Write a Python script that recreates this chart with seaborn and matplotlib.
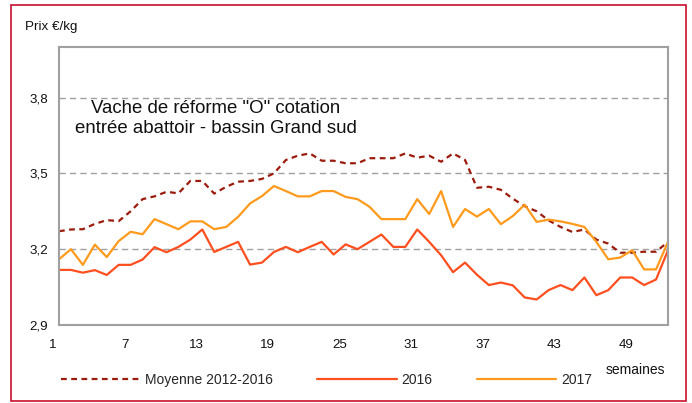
import numpy as np
import pandas as pd
import matplotlib
matplotlib.use("Agg")
import matplotlib.pyplot as plt
import matplotlib.transforms as mtransforms
from matplotlib.patches import Rectangle
import seaborn as sns

# ---- données ----
semaines = list(range(1, 53))

moyenne_2012_2016 = [3.271, 3.278, 3.279, 3.300, 3.315, 3.311, 3.350, 3.398, 3.409, 3.427,
                     3.421, 3.470, 3.470, 3.420, 3.447, 3.467, 3.470, 3.478, 3.500, 3.553,
                     3.570, 3.579, 3.550, 3.550, 3.540, 3.540, 3.560, 3.560, 3.560, 3.579,
                     3.562, 3.570, 3.546, 3.579, 3.553, 3.443, 3.447, 3.435, 3.400, 3.370,
                     3.350, 3.314, 3.288, 3.268, 3.278, 3.238, 3.222, 3.186, 3.186, 3.190,
                     3.190, 3.229]

prix_2016 = [3.118, 3.118, 3.107, 3.117, 3.098, 3.138, 3.138, 3.159, 3.208, 3.188,
             3.209, 3.238, 3.278, 3.189, 3.209, 3.229, 3.139, 3.147, 3.189, 3.209,
             3.188, 3.209, 3.229, 3.179, 3.219, 3.200, 3.229, 3.258, 3.209, 3.209,
             3.278, 3.229, 3.176, 3.109, 3.147, 3.099, 3.058, 3.068, 3.057, 3.009,
             3.001, 3.038, 3.058, 3.038, 3.088, 3.018, 3.038, 3.088, 3.088, 3.058,
             3.080, 3.196]

prix_2017 = [3.160, 3.200, 3.138, 3.218, 3.169, 3.232, 3.269, 3.259, 3.319, 3.299,
             3.279, 3.310, 3.310, 3.279, 3.288, 3.328, 3.381, 3.410, 3.450, 3.430,
             3.409, 3.409, 3.430, 3.430, 3.407, 3.398, 3.368, 3.319, 3.319, 3.319,
             3.398, 3.339, 3.430, 3.288, 3.359, 3.329, 3.359, 3.299, 3.331, 3.376,
             3.308, 3.317, 3.310, 3.300, 3.288, 3.229, 3.160, 3.167, 3.196, 3.120,
             3.120, 3.229]

y_ticks = [2.9, 3.2, 3.5, 3.8]
y_tick_labels = ["2,9", "3,2", "3,5", "3,8"]
x_tick_labels = [str(w) if (w - 1) % 6 == 0 else "" for w in semaines]

C_MOY = "#9b1c0c"
C_2016 = "#ff4f1f"
C_2017 = "#ff9a1c"
C_GRIS = "#a0a0a0"

sns.set_style("white")
plt.rcParams["font.family"] = ["Liberation Sans", "DejaVu Sans"]

fig = plt.figure(figsize=(6.92, 4.03), dpi=100)
ax = fig.add_axes([59 / 692, 1 - 325 / 403, 609 / 692, 278 / 403])

df = pd.DataFrame({"semaine": semaines, "moy": moyenne_2012_2016,
                   "a2016": prix_2016, "a2017": prix_2017})

sns.lineplot(data=df, x="semaine", y="moy", ax=ax, color=C_MOY, lw=1.6,
             linestyle=(0, (2.6, 2.0)), label="Moyenne 2012-2016")
sns.lineplot(data=df, x="semaine", y="a2016", ax=ax, color=C_2016, lw=1.6, label="2016")
sns.lineplot(data=df, x="semaine", y="a2017", ax=ax, color=C_2017, lw=1.6, label="2017")

# grille
for v in y_ticks[1:]:
    ax.axhline(v, color=C_GRIS, lw=1.0, linestyle=(0, (4.5, 3)), zorder=0)

ax.set_xlim(1, 52)
ax.set_ylim(2.9, 4.0)
ax.set_yticks(y_ticks)
ax.set_yticklabels(y_tick_labels)
ax.set_xticks(semaines)
ax.set_xticklabels(x_tick_labels)
ax.set_xlabel("")
ax.set_ylabel("")

for s in ax.spines.values():
    s.set_color(C_GRIS)
    s.set_linewidth(1.5)

ax.tick_params(axis="both", direction="out", length=5, width=1.3, color=C_GRIS,
               labelsize=9.6, labelcolor="#111111")
ax.tick_params(axis="x", pad=5)
ax.tick_params(axis="y", pad=3)

# étiquettes de semaines décalées comme dans l'original
offset = mtransforms.ScaledTranslation(-6 / 100, 0, fig.dpi_scale_trans)
for lab in ax.get_xticklabels():
    lab.set_transform(lab.get_transform() + offset)

ax.text(0.258, 0.742, "Vache de réforme \"O\" cotation\nentrée abattoir - bassin Grand sud",
        transform=ax.transAxes, ha="center", va="center", multialignment="center",
        fontsize=13.4, color="#111111", linespacing=1.2)

fig.text(25 / 692, 1 - 27 / 403, "Prix €/kg", ha="left", va="center", fontsize=9.6,
         color="#111111")
fig.text(635 / 692, 1 - 370 / 403, "semaines", ha="center", va="center", fontsize=10,
         color="#111111")

handles, labels = ax.get_legend_handles_labels()
if ax.get_legend() is not None:
    ax.get_legend().remove()
fig.legend(handles, labels, loc="center left", bbox_to_anchor=(61 / 692, 1 - 380 / 403),
           ncol=3, frameon=False, fontsize=10, handlelength=5.7, handletextpad=0.36,
           columnspacing=3.2, borderpad=0, borderaxespad=0)

# cadre rouge
fig.patches.append(Rectangle((11 / 692, 1 - 401 / 403), 675 / 692, 396 / 403,
                             transform=fig.transFigure, fill=False,
                             edgecolor="#c8102e", lw=1.2))

fig.savefig("out.png", dpi=100)
